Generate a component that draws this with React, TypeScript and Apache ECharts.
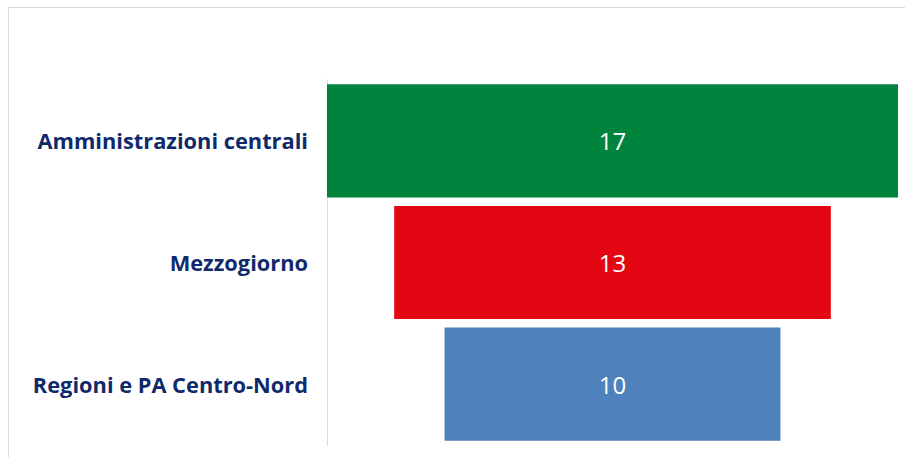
import React, { useEffect, useRef } from "react";
import * as echarts from "echarts";

const categories = ["Amministrazioni centrali", "Mezzogiorno", "Regioni e PA Centro-Nord"];
const values = [17, 13, 10];
const colors = ["#00843D", "#E30613", "#4F81BD"];

export default function App() {
  const ref = useRef<HTMLDivElement>(null);
  useEffect(() => {
    const chart = echarts.init(ref.current!, null, { renderer: "svg" });
    const maxV = Math.max(...values);
    const offsets = values.map((v) => (maxV - v) / 2);
    chart.setOption({
      animation: false,
      backgroundColor: "#ffffff",
      grid: { left: 327, right: 7, top: 80, bottom: 12 },
      xAxis: { type: "value", min: 0, max: maxV, show: false },
      yAxis: {
        type: "category",
        data: categories,
        inverse: true,
        axisLine: { show: true, lineStyle: { color: "#d9d9d9", width: 1 } },
        axisTick: { show: false },
        axisLabel: {
          margin: 19,
          color: "#0f2a6b",
          fontFamily: "Open Sans",
          fontWeight: "bold",
          fontSize: 21.8,
        },
      },
      graphic: [
        { type: "line", shape: { x1: 8, y1: 7.5, x2: 905, y2: 7.5 }, style: { stroke: "#d9d9d9", lineWidth: 1 } },
        { type: "line", shape: { x1: 8.5, y1: 7, x2: 8.5, y2: 457 }, style: { stroke: "#d9d9d9", lineWidth: 1 } },
      ],
      series: [
        {
          type: "bar",
          stack: "f",
          data: offsets,
          itemStyle: { color: "transparent" },
          silent: true,
          barCategoryGap: "7%",
        },
        {
          type: "bar",
          stack: "f",
          data: values.map((v, i) => ({ value: v, itemStyle: { color: colors[i] } })),
          barCategoryGap: "7%",
          label: {
            show: true,
            position: "inside",
            color: "#ffffff",
            fontFamily: "Open Sans",
            fontSize: 24,
          },
        },
      ],
    });
    return () => chart.dispose();
  }, []);
  return (
    <div
      ref={ref}
      style={{ position: "fixed", left: 0, top: 0, width: 905, height: 457 }}
    />
  );
}
